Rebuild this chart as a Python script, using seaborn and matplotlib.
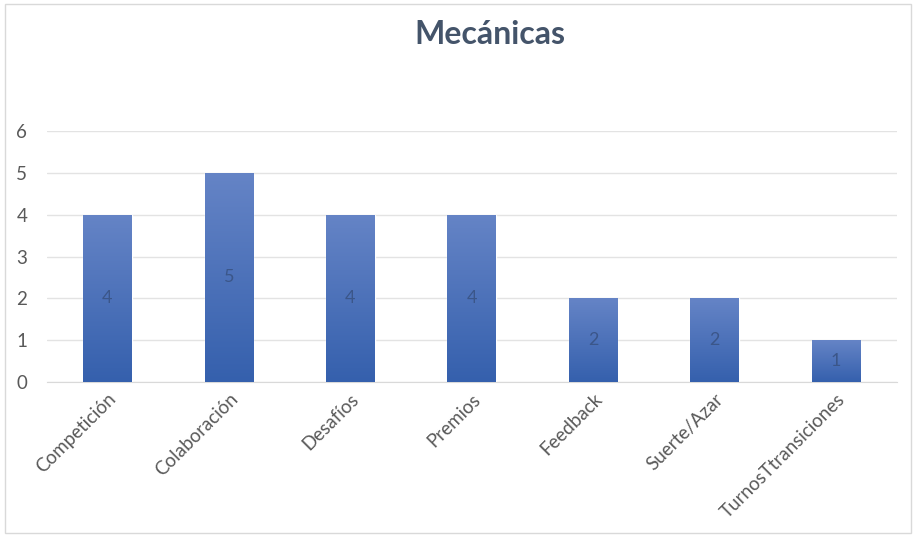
import seaborn as sns
import matplotlib.pyplot as plt
import pandas as pd
import numpy as np
from matplotlib.colors import LinearSegmentedColormap
from matplotlib.patches import Rectangle

categories = ['Competición', 'Colaboración', 'Desafíos', 'Premios', 'Feedback',
              'Suerte/Azar', 'TurnosTtransiciones']
values = [4, 5, 4, 4, 2, 2, 1]

df = pd.DataFrame({'mecanica': categories, 'n': values})

sns.set_style('white')
plt.rcParams['font.family'] = ['Lato', 'DejaVu Sans']

fig = plt.figure(figsize=(9.16, 5.35), dpi=100)
ax = fig.add_axes([0.051, 0.286, 0.928, 0.469])

sns.barplot(data=df, x='mecanica', y='n', color='#4a6fbb', width=0.4,
            saturation=1, ax=ax, zorder=2)

# vertical gradient on each bar (lighter on top, darker at bottom)
cmap = LinearSegmentedColormap.from_list('grad', ['#3560ad', '#6584c6'])
grad = np.linspace(0, 1, 256).reshape(-1, 1)
for bar in ax.patches:
    x0, y0 = bar.get_x(), bar.get_y()
    w, h = bar.get_width(), bar.get_height()
    im = ax.imshow(grad, cmap=cmap, origin='lower', aspect='auto',
                   extent=[x0, x0 + w, y0, y0 + h], zorder=3)
    im.set_clip_path(bar)
    ax.text(x0 + w / 2, h / 2, f'{h:g}', ha='center', va='center',
            fontsize=13, color='#3b5689', zorder=4)

ax.set_xlim(-0.5, len(categories) - 0.5)
ax.set_ylim(0, 6)
ax.set_yticks(range(0, 7))
ax.yaxis.grid(True, color='#e3e3e3', linewidth=1, zorder=0)
ax.set_axisbelow(True)
for s in ax.spines.values():
    s.set_visible(False)
ax.spines['bottom'].set_visible(True)
ax.spines['bottom'].set_color('#d9d9d9')
ax.tick_params(axis='both', length=0, labelsize=13.5, labelcolor='#595959')
ax.tick_params(axis='y', pad=14)
ax.tick_params(axis='x', pad=6)
plt.setp(ax.get_xticklabels(), rotation=45, ha='right', rotation_mode='anchor')
ax.set_xlabel('')
ax.set_ylabel('')

fig.text(0.535, 0.935, 'Mecánicas', ha='center', va='center', fontsize=23,
         fontweight='bold', color='#44546a')

fig.patches.append(Rectangle((0.006, 0.004), 0.988, 0.988, transform=fig.transFigure,
                             fill=False, edgecolor='#d9d9d9', linewidth=1))

fig.savefig('out.png', dpi=100)
